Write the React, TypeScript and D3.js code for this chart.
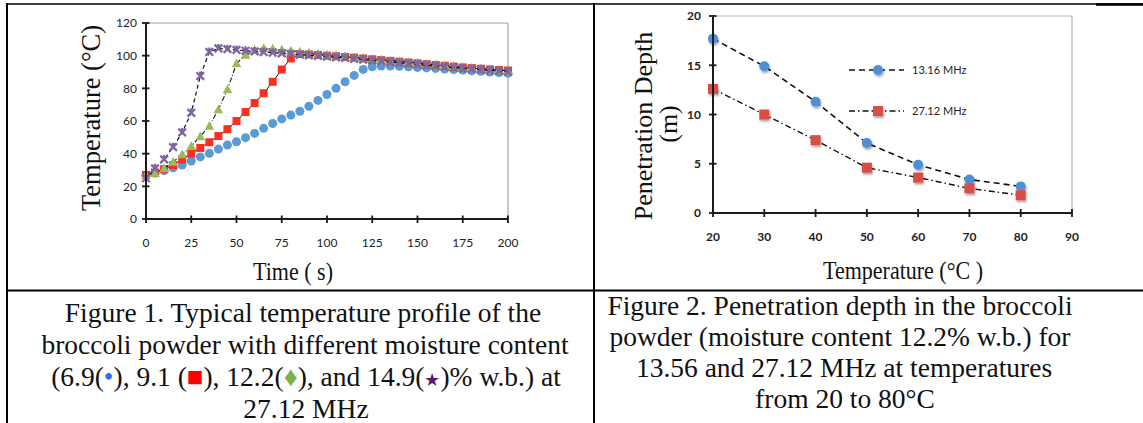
import React from "react";
import * as d3 from "d3";

// ---------- Figure 1 data ----------
const timeS = [0, 5, 10, 15, 20, 25, 30, 35, 40, 45, 50, 55, 60, 65, 70, 75, 80, 85, 90, 95, 100, 105, 110, 115, 120, 125, 130, 135, 140, 145, 150, 155, 160, 165, 170, 175, 180, 185, 190, 195, 200];
const mc69 = [26.5, 28, 29.6, 31.4, 33, 35.5, 38, 40.2, 42.8, 45.3, 47.3, 49.8, 52.4, 55.5, 58.5, 61.3, 63.6, 66, 69, 72.6, 76.2, 80, 84, 87.9, 91.6, 93.2, 93.6, 93.7, 93.5, 93.2, 92.8, 92.5, 92.2, 91.8, 91.5, 91.2, 90.8, 90.4, 90, 89.6, 89.2];
const mc91 = [27, 28.5, 30.5, 33, 36.5, 40, 43.5, 47, 50.8, 55, 60, 65.5, 71, 77, 84, 91.5, 98.3, 101, 100.8, 100.4, 100, 99.6, 99.2, 98.8, 98.3, 97.8, 97.3, 96.8, 96.3, 95.8, 95.3, 94.8, 94.3, 93.8, 93.3, 92.8, 92.4, 92, 91.6, 91.2, 90.9];
const mc122 = [27, 28, 31, 35, 39.5, 44.6, 50.6, 57, 67, 79.3, 95.2, 100.5, 103.5, 104.6, 104.2, 103.6, 103, 102.4, 101.8, 101.2, 100.6, 100.1, 99.6, 99.1, 98.6, 98.1, 97.6, 97.1, 96.6, 96.1, 95.6, 95.1, 94.6, 94.1, 93.6, 93.1, 92.6, 92.1, 91.6, 91.2, 90.8];
const mc149 = [25, 31, 36.5, 44, 53, 65, 87.5, 102.3, 104.4, 104, 103.5, 103, 102.6, 102.2, 101.8, 101.4, 101, 100.6, 100.2, 99.8, 99.4, 99, 98.6, 98.1, 97.6, 97.1, 96.6, 96.1, 95.6, 95.1, 94.6, 94.1, 93.6, 93.1, 92.6, 92.2, 91.8, 91.4, 91, 90.6, 90.2];
const f1XTicks = [0, 25, 50, 75, 100, 125, 150, 175, 200];
const f1YTicks = [0, 20, 40, 60, 80, 100, 120];

// ---------- Figure 2 data ----------
const tempC = [20, 30, 40, 50, 60, 70, 80];
const pd1316 = [17.7, 14.9, 11.3, 7.1, 4.9, 3.4, 2.7];
const pd2712 = [12.6, 10.0, 7.4, 4.6, 3.6, 2.5, 1.8];
const f2XTicks = [20, 30, 40, 50, 60, 70, 80, 90];
const f2YTicks = [0, 5, 10, 15, 20];
const legendLabels = ["13.16 MHz", "27.12 MHz"];

const SERIF = "'Liberation Serif', 'Times New Roman', serif";
const SANS = "Lato, 'Open Sans', sans-serif";

const BLUE1 = "#5B9BD5";
const RED1 = "#F7301F";
const GREEN1 = "#9BBB59";
const PURPLE1 = "#8064A2";
const BLUE2 = "#4F8FD8";
const RED2 = "#DA4D45";

function Figure1() {
  const x = d3.scaleLinear().domain([0, 200]).range([146, 508]);
  const y = d3.scaleLinear().domain([0, 120]).range([219, 23]);
  const line = d3
    .line<number>()
    .x((_, i) => x(timeS[i]))
    .y((d) => y(d));
  return (
    <g>
      {/* plot frame */}
      <line x1={x(0)} x2={x(200)} y1={y(120)} y2={y(120)} stroke="#a6a6a6" strokeWidth={1.2} />
      <line x1={x(200)} x2={x(200)} y1={y(120)} y2={y(0)} stroke="#a6a6a6" strokeWidth={1.2} />
      {/* series: blue */}
      {mc69.map((d, i) => (
        <circle key={"b" + i} cx={x(timeS[i])} cy={y(d)} r={4.5} fill={BLUE1} />
      ))}
      {/* red */}
      <path d={line(mc91) || ""} fill="none" stroke="#111" strokeWidth={1} />
      {mc91.map((d, i) => (
        <rect key={"r" + i} x={x(timeS[i]) - 4} y={y(d) - 4} width={8} height={8} fill={RED1} />
      ))}
      {/* green */}
      <path d={line(mc122) || ""} fill="none" stroke="#111" strokeWidth={1.1} strokeDasharray="5,2,1,2" />
      {mc122.map((d, i) => (
        <path
          key={"g" + i}
          d={`M${x(timeS[i])},${y(d) - 5}L${x(timeS[i]) + 4.8},${y(d) + 3.8}L${x(timeS[i]) - 4.8},${y(d) + 3.8}Z`}
          fill={GREEN1}
        />
      ))}
      {/* purple */}
      <path d={line(mc149) || ""} fill="none" stroke="#111" strokeWidth={1.2} strokeDasharray="4,3" />
      {mc149.map((d, i) => {
        const cx = x(timeS[i]);
        const cy = y(d);
        return (
          <path
            key={"p" + i}
            d={`M${cx - 3.8},${cy - 3.8}L${cx + 3.8},${cy + 3.8}M${cx - 3.8},${cy + 3.8}L${cx + 3.8},${cy - 3.8}M${cx},${cy - 4.5}L${cx},${cy - 1.5}`}
            stroke={PURPLE1}
            strokeWidth={2.3}
            fill="none"
          />
        );
      })}
      {/* axes */}
      <line x1={x(0)} x2={x(0)} y1={y(120)} y2={y(0)} stroke="#1a1a1a" strokeWidth={2} />
      <line x1={x(0)} x2={x(200)} y1={y(0)} y2={y(0)} stroke="#1a1a1a" strokeWidth={2} />
      {f1YTicks.map((t) => (
        <g key={"yt" + t}>
          <line x1={x(0) - 4} x2={x(0) + 3.5} y1={y(t)} y2={y(t)} stroke="#1a1a1a" strokeWidth={1.8} />
          <text x={x(0) - 9} y={y(t)} dy="0.36em" textAnchor="end" fontFamily={SANS} fontSize={12} fill="#222">
            {t}
          </text>
        </g>
      ))}
      {f1XTicks.map((t) => (
        <g key={"xt" + t}>
          <line x1={x(t)} x2={x(t)} y1={y(0) - 3.5} y2={y(0) + 4} stroke="#1a1a1a" strokeWidth={1.8} />
          <text x={x(t)} y={247} textAnchor="middle" fontFamily={SANS} fontSize={12} fill="#222">
            {t}
          </text>
        </g>
      ))}
      {/* axis titles */}
      <text
        transform={`translate(100,118) rotate(-90)`}
        textAnchor="middle"
        fontFamily={SERIF}
        fontSize={26.5}
        fill="#111"
      >
        Temperature (°C)
      </text>
      <text
        x={293}
        y={280}
        textAnchor="middle"
        fontFamily={SERIF}
        fontSize={26}
        fill="#111"
        textLength={80}
        lengthAdjust="spacingAndGlyphs"
      >
        Time ( s)
      </text>
    </g>
  );
}

function Figure2() {
  const x = d3.scaleLinear().domain([20, 90]).range([713, 1072]);
  const y = d3.scaleLinear().domain([0, 20]).range([213, 16]);
  const line = d3
    .line<number>()
    .x((_, i) => x(tempC[i]))
    .y((d) => y(d));
  const legY = [70, 111];
  return (
    <g>
      <line x1={x(20)} x2={x(90)} y1={y(20)} y2={y(20)} stroke="#b3b3b3" strokeWidth={1.2} />
      <line x1={x(90)} x2={x(90)} y1={y(20)} y2={y(0)} stroke="#b3b3b3" strokeWidth={1.2} />
      <path d={line(pd1316) || ""} fill="none" stroke="#111" strokeWidth={1.6} strokeDasharray="6,4" />
      <path d={line(pd2712) || ""} fill="none" stroke="#111" strokeWidth={1.4} strokeDasharray="6,3,1.5,3" />
      {pd1316.map((d, i) => (
        <circle key={"b" + i} cx={x(tempC[i])} cy={y(d)} r={5} fill={BLUE2} filter="url(#shadow)" />
      ))}
      {pd2712.map((d, i) => (
        <rect key={"r" + i} x={x(tempC[i]) - 5} y={y(d) - 5} width={10} height={10} fill={RED2} filter="url(#shadow)" />
      ))}
      {/* legend */}
      <line x1={849} x2={904} y1={legY[0]} y2={legY[0]} stroke="#111" strokeWidth={1.6} strokeDasharray="6,4" />
      <circle cx={878} cy={legY[0]} r={5} fill={BLUE2} filter="url(#shadow)" />
      <text x={912} y={legY[0]} dy="0.36em" fontFamily={SANS} fontSize={11} fill="#222">
        {legendLabels[0]}
      </text>
      <line x1={849} x2={904} y1={legY[1]} y2={legY[1]} stroke="#111" strokeWidth={1.4} strokeDasharray="6,3,1.5,3" />
      <rect x={873} y={legY[1] - 5} width={10} height={10} fill={RED2} filter="url(#shadow)" />
      <text x={912} y={legY[1]} dy="0.36em" fontFamily={SANS} fontSize={11} fill="#222">
        {legendLabels[1]}
      </text>
      {/* axes */}
      <line x1={x(20)} x2={x(20)} y1={y(20)} y2={y(0)} stroke="#1a1a1a" strokeWidth={2} />
      <line x1={x(20)} x2={x(90)} y1={y(0)} y2={y(0)} stroke="#1a1a1a" strokeWidth={2} />
      {f2YTicks.map((t) => (
        <g key={"yt" + t}>
          <line x1={x(20) - 4} x2={x(20) + 3.5} y1={y(t)} y2={y(t)} stroke="#1a1a1a" strokeWidth={1.8} />
          <text x={x(20) - 12} y={y(t)} dy="0.36em" textAnchor="end" fontFamily={SANS} fontSize={12} fontWeight={700} fill="#222">
            {t}
          </text>
        </g>
      ))}
      {f2XTicks.map((t) => (
        <g key={"xt" + t}>
          <line x1={x(t)} x2={x(t)} y1={y(0) - 4} y2={y(0) + 4} stroke="#1a1a1a" strokeWidth={1.8} />
          <text x={x(t)} y={241} textAnchor="middle" fontFamily={SANS} fontSize={12} fontWeight={700} fill="#222">
            {t}
          </text>
        </g>
      ))}
      <text transform={`translate(652,126) rotate(-90)`} textAnchor="middle" fontFamily={SERIF} fontSize={26} fill="#111">
        Penetration Depth
      </text>
      <text transform={`translate(677,124) rotate(-90)`} textAnchor="middle" fontFamily={SERIF} fontSize={26} fill="#111">
        (m)
      </text>
      <text
        x={903}
        y={279}
        textAnchor="middle"
        fontFamily={SERIF}
        fontSize={26}
        fill="#111"
        textLength={160}
        lengthAdjust="spacingAndGlyphs"
      >
        Temperature (°C )
      </text>
    </g>
  );
}

function Captions() {
  const fs = 27.5;
  return (
    <g fontFamily={SERIF} fontSize={fs} fill="#111" textAnchor="middle">
      <text x={303} y={322}>Figure 1. Typical temperature profile of the</text>
      <text x={305} y={354}>broccoli powder with different moisture content</text>
      <text x={306} y={386}>
        (6.9(<tspan fill="#2F6FE8">•</tspan>), 9.1 (<tspan fill="#FF0000">■</tspan>), 12.2(<tspan fill="#7FB04A">♦</tspan>), and 14.9(
        <tspan fill="#5B1A78" fontSize={18}>★</tspan>)% w.b.) at
      </text>
      <text x={306} y={418}>27.12 MHz</text>
      <text x={840} y={315}>Figure 2. Penetration depth in the broccoli</text>
      <text x={840} y={346}>powder (moisture content 12.2% w.b.) for</text>
      <text x={844} y={377}>13.56 and 27.12 MHz at temperatures</text>
      <text x={845} y={408}>from 20 to 80°C</text>
    </g>
  );
}

export default function App() {
  return (
    <svg
      width={1143}
      height={423}
      viewBox="0 0 1143 423"
      style={{ position: "absolute", left: 0, top: 0, background: "#fff" }}
    >
      <defs>
        <filter id="shadow" x="-50%" y="-50%" width="200%" height="200%">
          <feDropShadow dx="1" dy="2" stdDeviation="1.3" floodColor="#000" floodOpacity="0.35" />
        </filter>
      </defs>
      <rect x={0} y={0} width={1143} height={423} fill="#fff" />
      {/* table borders */}
      <line x1={7} x2={1143} y1={4} y2={4} stroke="#000" strokeWidth={1.5} />
      <line x1={1096} x2={1143} y1={4.5} y2={4.5} stroke="#000" strokeWidth={2.5} />
      <line x1={7} x2={7} y1={3} y2={423} stroke="#000" strokeWidth={2} />
      <line x1={594} x2={594} y1={3} y2={423} stroke="#000" strokeWidth={2} />
      <line x1={7} x2={1143} y1={290.5} y2={290.5} stroke="#000" strokeWidth={2} />
      <Figure1 />
      <Figure2 />
      <Captions />
    </svg>
  );
}
